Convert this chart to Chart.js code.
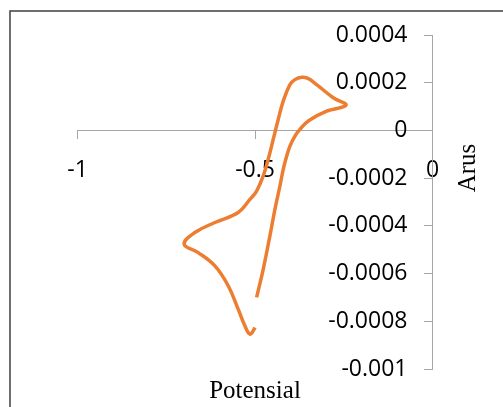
<!DOCTYPE html>
<html>
<head>
<meta charset="utf-8">
<script src="https://cdn.jsdelivr.net/npm/chart.js@4.4.1/dist/chart.umd.min.js"></script>
<style>
  html, body { margin: 0; padding: 0; background: #fff; }
  canvas { display: block; }
</style>
</head>
<body>
<canvas id="cv" width="503" height="407"></canvas>
<script>
// cyclic voltammogram, traced in drawing order
const potential = [
  -0.4955, -0.4769, -0.4580, -0.4439, -0.4298, -0.4205, -0.4109, -0.4016,
  -0.3875, -0.3734, -0.3480, -0.2982, -0.2438, -0.2796, -0.3264, -0.3509,
  -0.3687, -0.3875, -0.4016, -0.4205, -0.4346, -0.4487, -0.4628, -0.4769,
  -0.4955, -0.5144, -0.5474, -0.6130, -0.6694, -0.6996, -0.6601, -0.6130,
  -0.5755, -0.5474, -0.5285, -0.5144, -0.5023, -0.5003
];
const current = [
  -0.000700, -0.000582, -0.000442, -0.000331, -0.000233, -0.000163, -0.000108, -0.0000657,
  -0.0000238, 0.0000042, 0.0000418, 0.0000808, 0.000106, 0.000137, 0.000192, 0.000218,
  0.000223, 0.000213, 0.000192, 0.000123, 0.000046, -0.0000377, -0.000121, -0.000191,
  -0.000254, -0.000289, -0.000344, -0.000386, -0.000428, -0.000477, -0.000512, -0.000568,
  -0.000651, -0.000749, -0.000819, -0.000854, -0.000833, -0.000826
];

const xTicks = [-1, -0.5, 0];
const xTickLabels = ["-1", "-0.5", "0"];
const yTicks = [0.0004, 0.0002, 0, -0.0002, -0.0004, -0.0006, -0.0008, -0.001];
const yTickLabels = ["0.0004", "0.0002", "0", "-0.0002", "-0.0004", "-0.0006", "-0.0008", "-0.001"];

const xTitle = "Potensial";
const yTitle = "Arus";

const points = potential.map((x, i) => ({ x, y: current[i] }));

const frameAndTitles = {
  id: "frameAndTitles",
  beforeDraw(chart) {
    const ctx = chart.ctx;
    ctx.save();
    ctx.fillStyle = "#fff";
    ctx.fillRect(0, 0, chart.width, chart.height);
    ctx.strokeStyle = "#3f3f3f";
    ctx.lineWidth = 1.5;
    ctx.strokeRect(10, 11, 600, 500);
    ctx.restore();
  },
  afterDraw(chart) {
    const ctx = chart.ctx;
    ctx.save();
    ctx.fillStyle = "#000";
    ctx.font = "25px 'Liberation Serif'";
    ctx.textAlign = "center";
    ctx.textBaseline = "alphabetic";
    ctx.fillText(xTitle, 255, 398);
    ctx.translate(475, 168);
    ctx.rotate(-Math.PI / 2);
    ctx.fillText(yTitle, 0, 0);
    ctx.restore();
  },
};

const axisGrey = "#a6a6a6";
const tickFont = { family: "'Open Sans'", size: 23 };

new Chart(document.getElementById("cv"), {
  type: "scatter",
  data: {
    datasets: [{
      data: points,
      showLine: true,
      borderColor: "#ED7D31",
      borderWidth: 3.5,
      pointRadius: 0,
      tension: 0.4,
      fill: false,
    }],
  },
  options: {
    responsive: false,
    animation: false,
    layout: { padding: { left: 77.5, right: 70.5, top: 35, bottom: 38 } },
    plugins: { legend: { display: false }, tooltip: { enabled: false } },
    scales: {
      x: {
        type: "linear",
        min: -1,
        max: 0,
        position: { y: 0 },
        afterFit(scale) { scale.height = 0; },
        afterBuildTicks(scale) { scale.ticks = xTicks.map(v => ({ value: v })); },
        grid: { drawOnChartArea: false, drawTicks: true, tickLength: 8, color: axisGrey },
        border: { color: axisGrey, width: 1 },
        ticks: {
          color: "#000",
          padding: 18,
          maxRotation: 0,
          font: tickFont,
          callback: (v, i) => xTickLabels[i],
        },
      },
      // axis line + tick marks, crossing at x = 0
      y: {
        type: "linear",
        min: -0.001,
        max: 0.0004,
        position: { x: 0 },
        afterFit(scale) { scale.width = 0; },
        afterBuildTicks(scale) { scale.ticks = yTicks.map(v => ({ value: v })); },
        grid: { drawOnChartArea: false, drawTicks: true, tickLength: 8, color: axisGrey },
        border: { color: axisGrey, width: 1 },
        ticks: { display: false },
      },
      // labels only, set left of the tick marks
      yLabels: {
        type: "linear",
        axis: "y",
        min: -0.001,
        max: 0.0004,
        position: { x: -0.0705 },
        afterFit(scale) { scale.width = 0; },
        afterBuildTicks(scale) { scale.ticks = yTicks.map(v => ({ value: v })); },
        grid: { display: false, drawTicks: false },
        border: { display: false },
        ticks: {
          color: "#000",
          padding: 0,
          font: tickFont,
          callback: (v, i) => yTickLabels[i],
        },
      },
    },
  },
  plugins: [frameAndTitles],
});
</script>
</body>
</html>
